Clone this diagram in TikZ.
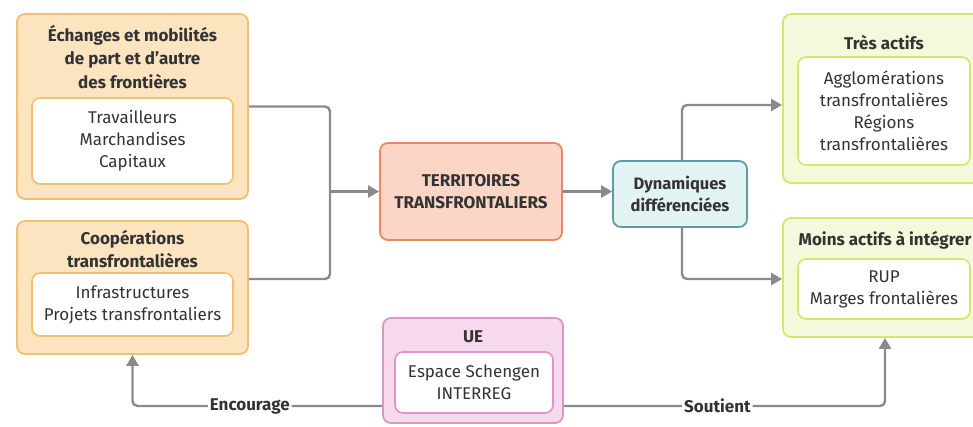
\documentclass[tikz,border=0pt]{standalone}
\usepackage{fontspec}
\setmainfont{Fira Sans}
\usetikzlibrary{arrows.meta}
\definecolor{txt}{HTML}{333333}
\definecolor{conn}{HTML}{8A8A8A}
\definecolor{orfill}{HTML}{FCE4C0}
\definecolor{ordraw}{HTML}{F0C070}
\definecolor{terfill}{HTML}{FBD5C5}
\definecolor{terdraw}{HTML}{E88A60}
\definecolor{dynfill}{HTML}{E3F3F4}
\definecolor{dyndraw}{HTML}{5E9EA0}
\definecolor{grfill}{HTML}{F4F9DC}
\definecolor{grdraw}{HTML}{D8E46C}
\definecolor{pkfill}{HTML}{F7D9EE}
\definecolor{pkdraw}{HTML}{DC94CC}
\tikzset{
  boxbase/.style={rounded corners=8pt, line width=1.8pt, inner sep=0pt},
  innerbox/.style={rounded corners=8pt, line width=1.6pt, fill=white, inner sep=0pt, align=center,
     font=\fontsize{17}{22}\selectfont, text=txt},
  titletxt/.style={align=center, font=\fontsize{17}{23.5}\selectfont\bfseries, text=txt, inner sep=0pt},
  conline/.style={draw=conn, line width=2.4pt, rounded corners=5pt},
  arr/.style={conline, -{Triangle[length=11pt,width=12pt]}},
  lbl/.style={fill=white, inner sep=2pt, font=\fontsize{17}{19}\selectfont\bfseries, text=txt}
}
\begin{document}
\begin{tikzpicture}[x=1pt,y=-1pt]
\useasboundingbox (0,0) rectangle (973,426);
\begin{scope}
\clip (0,0) rectangle (973,426);
% left top
\node[boxbase, draw=ordraw, fill=orfill, minimum width=231pt, minimum height=185pt] (b1) at (132.5,106.5) {};
\node[innerbox, draw=ordraw, minimum width=201pt, minimum height=86pt] (b1i) at (132.5,141) {Travailleurs\\Marchandises\\Capitaux};
\node[titletxt] (b1t) at (132.5,57) {Échanges et mobilités\\de part et d’autre\\des frontières};
% left bottom
\node[boxbase, draw=ordraw, fill=orfill, minimum width=231pt, minimum height=133pt] (b2) at (132.5,287.5) {};
\node[innerbox, draw=ordraw, minimum width=201pt, minimum height=63pt] (b2i) at (132.5,304.5) {Infrastructures\\Projets transfrontaliers};
\node[titletxt] (b2t) at (132.5,249) {Coopérations\\transfrontalières};
% centre
\node[boxbase, draw=terdraw, fill=terfill, minimum width=182pt, minimum height=97pt, titletxt, font=\fontsize{17}{22.5}\selectfont\bfseries] (terr) at (471,191.5) {TERRITOIRES\\TRANSFRONTALIERS};
\node[boxbase, draw=dyndraw, fill=dynfill, minimum width=134pt, minimum height=66pt, titletxt, font=\fontsize{16.5}{22}\selectfont\bfseries] (dyn) at (680,194) {Dynamiques\\différenciées};
% right top
\node[boxbase, draw=grdraw, fill=grfill, minimum width=202pt, minimum height=169pt] (tres) at (884,98.5) {};
\node[innerbox, draw=grdraw, minimum width=172pt, minimum height=108pt] (tresi) at (884,111) {Agglomérations\\transfrontalières\\Régions\\transfrontalières};
\node[titletxt] (trest) at (884,43) {Très actifs};
% right bottom
\node[boxbase, draw=grdraw, fill=grfill, minimum width=202pt, minimum height=119pt] (moins) at (884,277.5) {};
\node[innerbox, draw=grdraw, minimum width=172pt, minimum height=60pt] (moinsi) at (884,289) {RUP\\Marges frontalières};
\node[titletxt] (moinst) at (885,240) {Moins actifs à intégrer};
% UE
\node[boxbase, draw=pkdraw, fill=pkfill, minimum width=180pt, minimum height=105pt] (ue) at (473,370.5) {};
\node[innerbox, draw=pkdraw, minimum width=158pt, minimum height=61pt] (uei) at (474,382.5) {Espace Schengen\\INTERREG};
\node[titletxt] (uet) at (473,337) {UE};
% connectors
\coordinate (j) at (330,191.5);
\draw[conline] (b1.east) -| (j) |- ([yshift=8.5pt]b2.east);
\draw[arr] (j) -- (terr.west);
\draw[arr] (terr.east) -- (terr.east -| dyn.west);
\draw[arr] ([xshift=2pt]dyn.north) |- ([yshift=-6.5pt]tres.west);
\draw[arr] ([xshift=2pt]dyn.south) |- ([yshift=-1.5pt]moins.west);
\draw[arr] ([yshift=-35.5pt]ue.west) -| node[lbl, pos=0.265] (enc) {Encourage} (b2.south);
\draw[arr] ([yshift=-35.5pt]ue.east) -| node[lbl, pos=0.239] (sout) {Soutient} ([xshift=1pt]moins.south);
\end{scope}
\end{tikzpicture}
\end{document}
